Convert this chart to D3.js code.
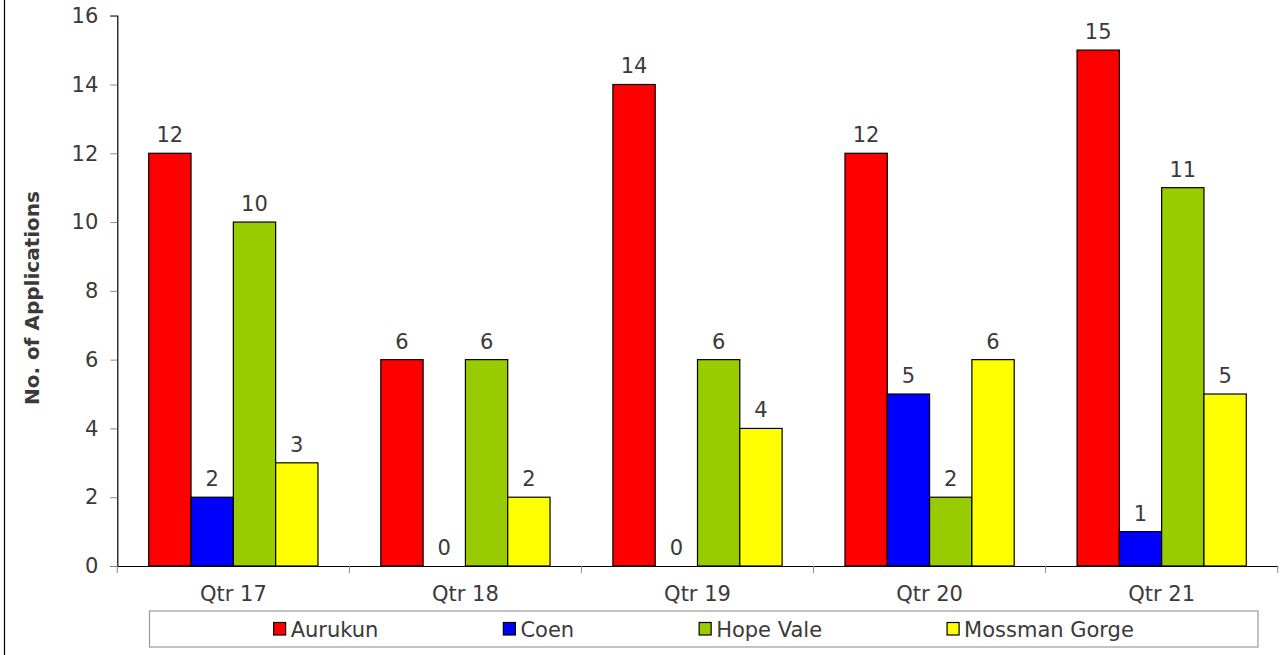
<!DOCTYPE html>
<html><head><meta charset="utf-8">
<script src="https://cdn.jsdelivr.net/npm/d3@7"></script>
<style>
html,body{margin:0;padding:0;background:#fff;}
svg{display:block;}
text{font-family:"DejaVu Sans",Verdana,sans-serif;fill:#3a3a3a;}
</style></head>
<body>
<svg id="c" width="1285" height="655"></svg>
<script>
const categories = ["Qtr 17","Qtr 18","Qtr 19","Qtr 20","Qtr 21"];
const seriesNames = ["Aurukun","Coen","Hope Vale","Mossman Gorge"];
const aurukun = [12,6,14,12,15];
const coen = [2,0,0,5,1];
const hopeVale = [10,6,6,2,11];
const mossmanGorge = [3,2,4,6,5];
const yTicks = [0,2,4,6,8,10,12,14,16];
const colors = ["#FF0000","#0000FF","#99CC00","#FFFF00"];
const seriesValues = [aurukun, coen, hopeVale, mossmanGorge];

const FS = "21px";
const svg = d3.select("#c");
const plotLeft = 117.3, plotRight = 1277.7, plotTop = 15.7, plotBottom = 566;

// outer left border
svg.append("line").attr("x1",4.5).attr("x2",4.5).attr("y1",0).attr("y2",655)
  .attr("stroke","#000").attr("stroke-width",1.2);

const x0 = d3.scaleBand().domain(categories).range([plotLeft,plotRight]).padding(0);
const x1 = d3.scaleBand().domain(seriesNames).range([0,x0.bandwidth()]).paddingInner(0).paddingOuter(0.743);
const y = d3.scaleLinear().domain([0,16]).range([plotBottom,plotTop]);

// y axis
const yAxis = svg.append("g").attr("transform",`translate(${plotLeft},0)`)
  .call(d3.axisLeft(y).tickValues(yTicks).tickSize(7).tickPadding(12));
yAxis.select(".domain").attr("stroke","#000").attr("stroke-width",1.2);
yAxis.selectAll(".tick line").attr("stroke","#888");
yAxis.selectAll(".tick text").style("font-size",FS).attr("fill","#3a3a3a")
  .style("font-family",'"DejaVu Sans",sans-serif');

// bars
const groups = svg.append("g").selectAll("g").data(categories).join("g")
  .attr("transform",d=>`translate(${x0(d)},0)`);
groups.each(function(cat,ci){
  const g = d3.select(this);
  seriesNames.forEach((s,si)=>{
    const v = seriesValues[si][ci];
    if (v>0) {
      g.append("rect").attr("x",x1(s)).attr("y",y(v)).attr("width",x1.bandwidth())
        .attr("height",y(0)-y(v)).attr("fill",colors[si]).attr("stroke","#000").attr("stroke-width",1.2);
    }
    g.append("text").attr("x",x1(s)+x1.bandwidth()/2).attr("y",y(v)-11)
      .attr("text-anchor","middle").style("font-size",FS).text(v);
  });
});

// x axis
const xAxis = svg.append("g").attr("transform",`translate(0,${plotBottom})`)
  .call(d3.axisBottom(x0).tickSize(0).tickPadding(20));
xAxis.select(".domain").attr("stroke","#000").attr("stroke-width",1.2);
xAxis.selectAll(".tick text").style("font-size",FS).attr("fill","#3a3a3a")
  .style("font-family",'"DejaVu Sans",sans-serif');
const bounds = categories.map(c=>x0(c)).concat([plotRight]);
svg.append("g").selectAll("line").data(bounds).join("line")
  .attr("x1",d=>d).attr("x2",d=>d).attr("y1",plotBottom).attr("y2",plotBottom+7)
  .attr("stroke","#888").attr("stroke-width",1);

// y title
svg.append("text").attr("transform","translate(39,298) rotate(-90)")
  .attr("text-anchor","middle").style("font-size","20px").style("font-weight","bold")
  .text("No. of Applications");

// legend
const lx = 149.5, ly = 611, lw = 1108.5, lh = 36;
svg.append("rect").attr("x",lx).attr("y",ly).attr("width",lw).attr("height",lh)
  .attr("fill","#fff").attr("stroke","#999").attr("stroke-width",1.2);
const leg = svg.append("g");
const items = seriesNames.map((s,i)=>{
  const g = leg.append("g");
  g.append("rect").attr("x",0).attr("y",-6.5).attr("width",12).attr("height",12.5)
    .attr("fill",colors[i]).attr("stroke","#000").attr("stroke-width",1.2);
  const t = g.append("text").attr("x",17).attr("y",7.5).style("font-size",FS).text(s);
  return {g, w: 17 + t.node().getComputedTextLength()};
});
const gap = 125;
const total = d3.sum(items,d=>d.w) + gap*(items.length-1);
let cx = lx + lw/2 - total/2;
items.forEach(it=>{ it.g.attr("transform",`translate(${cx},${ly+lh/2})`); cx += it.w + gap; });
</script>
</body></html>
